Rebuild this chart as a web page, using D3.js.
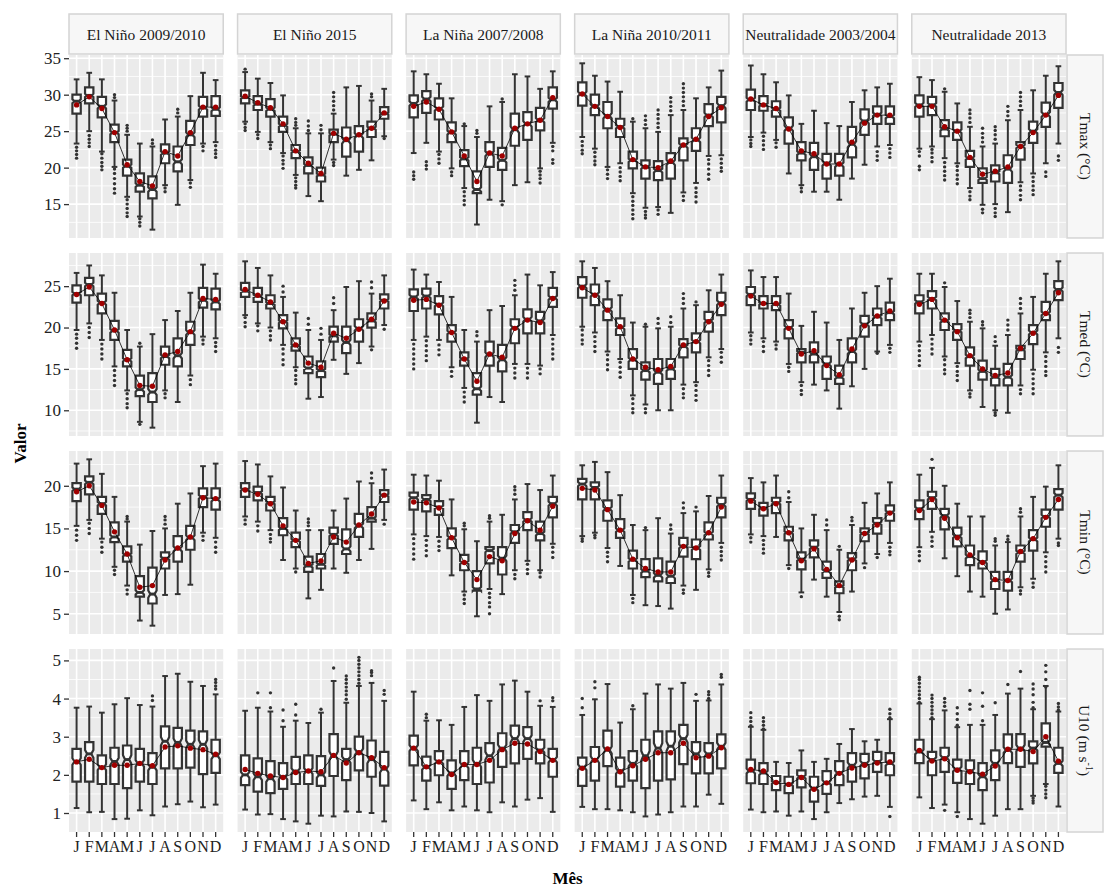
<!DOCTYPE html>
<html>
<head>
<meta charset="utf-8">
<script src="https://cdn.jsdelivr.net/npm/d3@7"></script>
<style>
  body { margin: 0; background: #fff; }
</style>
</head>
<body>
<svg id="chart" width="1105" height="886"></svg>
<script>
const events = ["El Niño 2009/2010", "El Niño 2015", "La Niña 2007/2008",
  "La Niña 2010/2011", "Neutralidade 2003/2004", "Neutralidade 2013"];
const monthLabels = ["J", "F", "M", "A", "M", "J", "J", "A", "S", "O", "N", "D"];
const varNames = ["Tmax (°C)", "Tmed (°C)", "Tmin (°C)", "U10 (m s-1)"];

const tmaxTicks = [15, 20, 25, 30, 35];
const tmedTicks = [10, 15, 20, 25];
const tminTicks = [5, 10, 15, 20];
const u10Ticks = [1, 2, 3, 4, 5];

// observations per month, used for the notch size
const nObs = 250;

// each box: [lower whisker, q1, median, q3, upper whisker, mean]
const tmax = [
  [[23.3,27.4,29.1,30.0,32.1,28.6],[25.0,28.8,29.9,31.0,33.0,29.7],[22.2,26.9,28.4,29.7,32.1,28.1],[20.1,23.5,24.8,25.9,29.2,24.8],[16.0,18.9,20.2,21.1,24.5,20.4],[13.3,16.7,17.6,19.2,23.3,18.1],[11.5,15.8,17.0,18.8,22.9,17.5],[17.6,20.6,22.0,23.2,26.6,22.2],[14.9,19.5,20.8,22.9,27.0,21.6],[18.3,23.1,24.5,26.4,29.8,24.8],[23.3,27.0,28.2,29.7,33.0,28.3],[23.5,27.1,28.0,29.8,32.0,28.3]],
  [[26.3,28.8,29.6,30.6,33.1,29.8],[24.9,27.9,28.7,29.8,32.2,28.9],[23.5,27.0,28.0,29.4,31.6,28.2],[22.0,24.9,25.8,27.0,29.9,26.0],[19.0,21.3,22.2,23.1,25.4,22.3],[16.1,19.2,20.3,21.4,24.7,20.6],[15.4,18.1,19.0,20.0,24.7,19.2],[21.1,23.5,24.6,25.2,27.4,24.7],[18.9,21.5,23.7,25.5,31.0,23.9],[19.7,22.2,24.4,25.7,31.2,24.5],[21.0,24.2,25.4,26.3,29.2,25.4],[24.3,26.7,27.4,28.3,30.8,27.5]],
  [[22.0,26.9,28.8,29.9,33.2,28.4],[23.4,27.5,29.4,30.5,32.8,29.0],[22.2,26.6,28.1,29.5,31.5,28.0],[19.9,23.5,24.8,26.2,29.5,24.9],[17.2,20.2,21.2,22.4,25.7,21.6],[12.2,16.5,17.0,19.5,24.2,18.1],[15.6,20.1,21.9,23.5,28.4,22.0],[15.4,19.7,21.0,22.7,29.0,21.6],[17.6,23.0,25.2,27.4,32.8,25.4],[18.0,23.8,26.0,27.6,32.5,26.0],[19.9,25.1,26.5,28.2,30.8,26.5],[23.4,28.1,29.3,31.0,33.2,29.6]],
  [[24.2,28.5,30.1,31.7,34.3,30.1],[22.6,27.2,28.4,30.0,32.6,28.4],[20.1,25.4,27.1,29.0,31.8,27.0],[20.6,24.2,25.6,26.7,30.4,25.5],[16.5,19.9,21.0,22.2,26.3,21.1],[14.5,18.5,20.1,21.0,25.4,20.1],[14.6,18.3,19.6,20.9,24.9,20.0],[13.8,18.5,20.7,22.0,27.2,20.9],[16.6,21.0,23.0,24.0,27.9,23.1],[17.9,22.3,23.8,25.4,29.5,23.9],[21.6,25.7,27.2,28.7,31.0,27.0],[21.7,26.2,28.5,29.7,33.3,28.2]],
  [[24.2,27.9,29.3,30.7,34.0,29.4],[24.8,27.8,28.6,29.8,32.8,28.6],[23.8,27.0,28.0,29.1,31.7,28.1],[19.2,23.3,25.4,26.9,29.9,25.3],[17.6,21.0,22.0,23.5,26.0,22.3],[16.7,19.7,21.5,23.4,27.8,21.9],[16.7,18.5,20.6,21.9,26.1,20.5],[15.6,18.9,20.4,21.9,25.7,20.5],[18.5,21.4,23.2,25.6,29.0,23.5],[20.4,24.5,26.4,28.0,30.6,26.1],[22.9,26.0,27.3,28.4,31.0,27.2],[23.1,26.0,27.0,28.4,31.5,27.2]],
  [[22.6,27.0,28.6,29.9,32.4,28.4],[22.9,27.2,28.6,29.7,32.0,28.4],[21.3,24.3,25.3,26.5,30.4,25.6],[20.6,23.8,25.0,26.2,28.8,25.0],[17.2,20.1,21.3,22.3,25.6,21.4],[14.9,17.9,18.5,19.9,22.9,19.1],[15.0,18.1,19.3,20.3,23.3,19.5],[13.9,17.9,19.8,21.7,26.5,20.1],[18.0,21.1,22.9,23.5,27.9,22.9],[19.2,23.4,25.0,26.3,30.6,24.8],[20.6,25.6,27.3,28.9,32.6,27.2],[23.3,28.2,30.3,31.6,33.9,29.9]]
];
const tmaxOut = [
  [[22.8,22.3,21.8,21.3],[24.4,23.9,23.4,22.9],[21.9,21.3,20.7,20.2,19.7],[29.6,30.0,19.8,19.2,18.5,17.8,17.1,16.5],[25.0,25.4,25.8,15.6,15.0,14.4,13.8,13.3],[13.0,12.5,12.0],[23.3,23.8],[17.2,16.7],[27.5,28.0],[17.9,17.3],[22.9,22.3],[23.0,22.4,21.9,21.4]],
  [[33.5,26.0,25.5,25.1],[24.5,24.0],[23.1,22.6],[21.6,21.0,20.5,19.9],[25.8,26.2,26.7,18.6,18.1,17.6,17.2],[25.1,25.7,26.4],[25.2,25.8],[27.9,28.5,29.1,29.7,30.3,20.7,20.3],[],[],[29.7,30.1],[24.0]],
  [[19.4,18.9,18.4],[20.8,20.3,19.8],[21.8,21.2,20.6],[19.4,18.9],[26.0,16.7,16.1,15.5,14.9],[24.7,25.1],[],[29.4,14.9],[],[],[19.5,19.0,18.5,17.9],[22.9,22.3,21.1,20.6]],
  [[23.6,23.0,22.4,21.9],[22.1,21.5,20.9,20.4],[19.7,19.1,18.5],[20.0,19.4,18.8,18.2],[26.7,16.0,15.4,14.8,14.2,13.6,13.0],[25.9,26.5,27.1,14.0,13.5,13.1],[25.5,26.1,26.7,27.3,27.9,14.2,13.6],[27.8,28.4,29.0,29.6],[28.5,29.1,29.7,30.3,30.9,31.5,16.1,15.5],[17.2,16.6,16.0,15.3],[21.1,20.5,19.8,19.1,18.4],[21.2,20.6,20.0,19.5]],
  [[23.8,23.3,22.9],[24.3,23.7,23.1,22.5],[23.4,22.8],[],[17.2,16.7],[],[],[],[],[],[22.2,21.6,21.0],[22.6,22.0,21.4]],
  [[22.2,21.6,20.2,19.7],[22.5,22.0,21.4,20.8],[30.8,20.7,20.1,19.5,18.9,18.3],[20.2,19.6,19.0,18.4,17.8],[26.2,26.8,27.4,27.9,16.7,16.1,15.6],[23.5,24.1,24.7,25.4,14.3,13.8],[23.9,24.5,25.1,25.6,14.4,13.8,13.3],[27.1,27.7,28.4],[28.5,29.1,29.7,30.3,17.5,16.9,16.2,15.6],[18.7,18.1,17.5,16.9,16.3],[19.4,18.8],[21.6,21.0]]
];

const tmed = [
  [[19.7,23.0,24.1,25.1,26.6,24.0],[20.5,23.9,25.2,26.0,27.5,24.9],[18.5,21.7,23.0,24.1,26.3,22.9],[15.3,18.5,19.6,20.8,24.2,19.7],[12.4,15.3,16.1,17.3,19.7,16.1],[8.6,11.7,12.5,14.2,17.7,13.0],[7.9,11.0,12.2,14.5,19.2,12.9],[12.4,15.5,16.5,17.7,20.9,16.7],[11.0,15.3,16.6,18.7,22.0,17.1],[14.2,17.9,19.4,20.7,24.2,19.5],[18.9,22.4,23.3,24.8,27.6,23.5],[18.7,22.2,23.1,24.7,26.5,23.4]],
  [[21.5,23.7,24.4,25.4,28.0,24.6],[20.5,23.1,23.8,24.8,27.2,23.9],[20.0,22.3,22.9,23.9,26.3,23.1],[17.9,19.9,20.7,21.5,23.7,20.7],[15.2,17.2,17.8,18.7,21.8,17.9],[11.4,14.5,15.1,16.5,19.7,15.7],[11.6,14.0,14.8,15.9,18.5,15.2],[16.1,18.3,19.0,20.1,22.1,19.3],[14.4,16.9,18.2,20.1,24.9,18.7],[15.7,18.3,19.9,21.0,25.6,19.8],[17.7,20.0,20.8,21.7,24.1,21.0],[20.3,22.3,23.3,24.0,26.3,23.2]],
  [[18.5,22.0,23.7,24.6,27.0,23.3],[18.9,22.3,23.8,24.7,26.4,23.4],[18.5,21.6,22.8,23.8,25.5,22.7],[15.2,18.3,19.4,20.3,23.7,19.4],[12.7,15.4,16.2,17.0,19.7,16.2],[8.5,11.9,12.6,14.5,18.3,13.5],[11.6,15.4,16.7,18.3,22.1,16.8],[11.0,14.7,16.1,17.9,22.6,16.4],[15.6,18.1,20.0,21.0,23.9,19.9],[15.6,19.3,21.0,22.2,26.4,20.9],[15.4,19.3,20.8,21.9,25.1,20.6],[19.1,22.5,23.6,24.8,26.7,23.5]],
  [[20.1,23.6,25.0,26.1,28.0,24.8],[19.4,22.7,24.0,25.2,27.2,23.9],[17.1,20.9,22.2,23.4,25.6,22.1],[16.2,19.1,20.0,21.1,23.9,20.1],[11.8,15.0,16.1,17.4,20.6,16.2],[10.7,13.7,14.8,15.8,20.1,15.2],[10.0,13.2,14.6,16.2,19.9,14.9],[10.0,13.8,15.0,16.2,20.1,15.3],[13.1,16.4,17.7,18.6,22.3,17.9],[13.4,17.0,18.3,19.3,22.7,18.3],[16.4,19.5,20.8,21.9,24.5,20.7],[17.4,21.5,23.0,24.2,26.4,22.8]],
  [[19.4,22.7,24.0,24.9,26.9,23.8],[18.7,22.3,22.9,23.8,26.1,22.9],[18.3,22.1,22.8,23.8,26.1,22.9],[15.6,18.7,20.0,20.9,24.1,19.9],[13.4,15.8,17.0,17.4,20.2,16.8],[13.1,15.8,16.8,18.2,21.9,17.2],[12.4,13.8,15.6,16.5,20.6,15.4],[10.2,13.2,14.0,15.4,18.5,14.3],[12.9,15.8,17.1,18.7,22.3,17.4],[15.0,18.9,20.4,21.4,24.2,20.2],[17.1,20.3,21.3,22.3,25.0,21.4],[17.9,20.9,21.8,23.0,25.9,22.0]],
  [[18.3,21.7,23.1,23.9,26.5,22.8],[19.1,22.3,23.5,24.4,26.5,23.4],[16.5,19.7,20.8,21.7,24.9,20.9],[15.7,18.5,19.6,20.4,23.2,19.5],[12.4,15.4,16.5,17.6,20.7,16.6],[10.4,13.7,14.7,16.0,19.9,15.0],[10.0,13.0,14.0,15.0,17.8,14.2],[9.7,13.0,14.0,15.6,19.1,14.5],[13.0,16.2,17.3,17.8,21.7,17.5],[14.9,18.0,19.4,20.3,23.7,19.3],[17.0,20.9,21.7,23.1,26.5,21.7],[18.7,23.3,24.6,25.6,28.0,24.2]]
];
const tmedOut = [
  [[19.2,18.7,18.1,17.5],[20.0,19.4,18.8],[18.0,17.4,16.8,16.2],[14.8,14.2,13.6,13.0],[12.0,11.4,10.8,10.3],[18.1,8.3],[],[12.0,11.5],[],[13.7,13.1],[18.5,18.0],[18.2,17.7,17.1]],
  [[21.2,20.6,20.1],[20.2,19.6],[19.6,19.0,18.5],[24.3,25.0,17.4,16.8,16.1,15.5],[14.8,14.2,13.7,13.2],[20.4,21.1],[19.2,19.9],[22.9,23.6],[],[],[24.8,25.5,17.3],[19.8]],
  [[18.0,17.4,16.8,16.2,15.6,15.0],[18.4,17.8,17.2,16.6,16.0],[17.9,17.3,16.7],[14.7,14.1],[12.2,11.6,11.0],[19.0,19.5],[],[],[24.5,25.1,25.7,15.1,14.5,13.9],[15.1,14.5,13.9],[15.0,14.4],[18.6,18.0,17.4,16.8,16.2]],
  [[19.7,19.1,18.5,18.0],[18.9,18.3,17.7,17.1],[16.7,16.1,15.5,14.9],[15.8,15.2,14.6,14.0],[11.4,10.8,10.2,9.7],[20.4,10.2,9.7],[20.5,21.1],[20.6,21.3],[22.9,23.5,24.1,12.6,12.0,11.5],[23.1,13.0,12.4,11.8,11.2],[16.0,15.4,14.8,14.2],[17.0,16.4,15.8]],
  [[19.0,18.5,18.0],[18.3,17.7,17.1],[17.9,17.4],[15.2,14.7],[13.0,12.4,11.9],[],[],[],[],[],[16.9],[17.5,17.0]],
  [[17.8,17.2,16.6,16.0,15.4],[18.6,18.0,17.4,16.8],[25.4,16.1,15.5,14.9,14.4],[15.3,14.7,14.2,13.6],[21.2,21.7,22.1,12.0,11.6],[20.3,20.7],[18.3,18.9,9.7,9.4],[19.7,20.3,20.9],[22.3,22.9,23.5,12.5,12.0],[14.4,13.8,13.2,12.6,12.0],[16.5,15.9,15.3,14.7,14.2],[17.6,17.0]]
];

const tmin = [
  [[15.3,18.2,19.6,20.3,22.6,19.3],[16.0,19.0,20.4,21.1,23.1,20.0],[13.8,16.7,17.9,18.7,21.4,17.7],[10.5,13.4,14.0,15.7,18.7,14.6],[8.3,11.1,11.9,12.9,15.8,12.0],[4.2,7.0,7.5,9.4,13.1,8.1],[3.6,6.2,7.3,10.4,14.7,8.3],[7.2,10.3,11.5,12.2,15.0,11.3],[7.3,11.1,12.6,14.1,17.9,12.7],[8.4,12.5,13.9,15.3,19.1,14.0],[14.5,17.5,18.7,19.7,22.3,18.6],[13.9,17.2,18.4,19.7,22.6,18.5]],
  [[16.4,18.7,19.6,20.3,22.9,19.5],[15.8,18.3,19.2,19.9,22.5,19.0],[14.8,17.1,18.0,18.7,21.1,17.9],[11.3,14.2,15.0,16.2,19.8,15.3],[10.3,12.8,13.6,14.5,17.1,13.6],[6.8,9.9,10.6,11.7,14.8,10.9],[7.8,10.3,10.8,12.0,14.8,11.2],[10.3,13.2,14.3,15.1,17.1,14.0],[9.8,12.0,12.6,14.9,18.5,13.4],[11.3,14.0,15.3,16.7,20.5,15.4],[12.6,15.8,16.2,17.5,20.3,16.7],[16.0,18.1,18.9,19.5,21.9,18.9]],
  [[14.3,17.2,18.6,19.2,21.3,18.1],[14.1,17.0,18.4,18.9,21.2,18.0],[14.0,16.6,17.5,18.2,20.6,17.4],[9.5,12.7,13.9,15.0,18.4,13.9],[7.6,10.1,11.0,11.9,14.9,11.0],[4.7,7.7,7.9,10.0,13.5,9.0],[7.9,10.9,12.4,12.8,15.8,11.7],[7.3,9.6,11.5,12.8,16.6,11.2],[10.1,13.3,14.6,15.4,18.4,14.4],[11.2,14.8,16.0,16.9,20.2,15.9],[10.1,13.6,14.4,15.8,19.5,14.8],[13.2,16.3,17.9,18.7,21.2,17.6]],
  [[14.1,18.4,20.2,20.8,22.4,19.7],[14.5,18.4,19.8,20.4,22.8,19.5],[12.7,15.9,17.3,18.3,21.6,17.2],[10.6,13.9,14.8,16.1,18.9,14.8],[7.2,10.3,11.3,12.4,15.4,11.4],[6.0,9.3,10.0,11.4,14.8,10.3],[5.9,8.8,9.5,11.5,16.2,9.9],[5.6,8.6,9.4,11.1,14.4,9.9],[8.3,11.7,12.9,13.9,16.8,12.9],[7.8,11.4,12.7,13.7,17.0,12.7],[10.2,13.7,14.4,15.7,18.8,14.5],[13.3,16.3,17.8,18.6,21.2,17.5]],
  [[14.3,17.3,18.4,19.1,20.9,18.2],[14.1,16.5,17.4,18.0,20.4,17.3],[14.0,16.8,18.0,18.6,21.2,17.9],[10.7,13.6,14.5,15.2,18.1,14.5],[7.5,10.2,11.4,12.2,15.0,11.2],[9.0,11.6,12.8,13.6,16.6,12.6],[7.0,9.2,10.0,11.1,14.8,10.2],[5.2,7.4,8.2,8.8,12.5,8.3],[7.6,10.1,11.4,12.1,15.4,11.3],[10.9,13.5,14.4,15.0,18.0,14.4],[12.0,14.4,15.6,16.2,19.1,15.4],[13.3,15.9,16.9,17.7,20.4,16.8]],
  [[12.8,16.1,17.3,18.3,21.3,17.1],[14.6,17.3,18.6,19.3,22.1,18.4],[11.5,14.9,16.5,17.3,20.0,16.2],[9.4,12.9,14.1,15.1,17.9,13.9],[7.6,10.7,11.7,13.0,16.4,11.9],[7.0,10.3,11.1,12.3,16.4,11.0],[5.0,7.9,8.9,9.9,13.0,9.0],[5.5,7.7,8.9,9.9,13.4,8.9],[8.1,11.1,12.2,13.0,16.4,12.3],[9.1,12.4,13.7,14.8,18.7,13.8],[12.2,15.2,16.4,17.2,19.9,16.3],[13.8,17.2,18.9,19.6,22.4,18.4]]
];
const tminOut = [
  [[14.8,14.2,13.6],[15.6,15.0,14.4],[13.4,12.8,12.2],[10.1,9.6],[16.1,16.4,7.8,7.3],[],[],[15.5,16.0,16.4],[],[],[14.1,13.6],[13.4,12.8,12.2]],
  [[16.0,15.5],[15.3,14.7],[14.3,13.8,13.4],[],[9.9],[15.3,15.7,16.1],[],[],[],[],[20.9,21.5],[15.5]],
  [[13.8,13.2,12.6,12.0,11.4],[13.6,13.0,12.4,11.8],[13.5,12.9,12.4],[],[15.3,15.6,7.2,6.7,6.2],[],[16.2,16.5,7.4,6.9,6.3,5.8,5.0],[],[19.0,19.5,19.9,9.6,9.1],[10.8,10.2,9.7],[9.8,9.3],[12.8,12.2,11.6]],
  [[13.8,13.5],[14.2,13.9],[12.2,11.7,11.1],[],[6.8,6.3],[15.1],[],[14.9,15.4],[17.4,18.0,7.8,7.4],[17.5],[9.8,9.4],[12.8,12.3,11.8,11.3]],
  [[13.9,13.4],[13.6,13.1,12.6,12.1],[],[18.6,19.3,10.3],[7.0],[],[15.4,16.0],[12.9,4.7,4.3],[15.9,16.3],[10.4],[11.6],[12.8,12.3,11.9]],
  [[12.3,11.8,11.2],[23.1,14.0,13.5,12.9],[],[],[],[],[13.5,13.8],[13.7,14.1],[16.9,17.3,7.7,7.3],[8.6,8.1],[11.7,11.1,10.5,9.9],[13.3,13.0]]
];

const u10 = [
  [[1.13,1.82,2.35,2.68,3.76,2.34],[1.02,1.82,2.55,2.86,3.79,2.41],[1.03,1.76,2.20,2.51,3.63,2.19],[0.84,1.76,2.35,2.71,3.85,2.25],[0.85,1.65,2.40,2.77,4.01,2.25],[1.07,1.82,2.30,2.68,3.83,2.30],[0.94,1.76,2.20,2.57,3.79,2.24],[1.17,2.17,2.88,3.27,4.59,2.73],[1.23,2.17,2.85,3.23,4.65,2.76],[1.30,2.19,2.80,3.16,4.44,2.70],[1.15,2.02,2.80,3.14,4.33,2.66],[1.22,2.05,2.50,2.92,4.11,2.54]],
  [[1.09,1.73,2.00,2.51,3.68,2.14],[0.96,1.56,1.95,2.43,3.76,2.04],[0.97,1.52,1.90,2.36,3.66,1.97],[0.84,1.63,1.95,2.31,3.26,1.93],[0.78,1.76,2.10,2.47,3.42,2.06],[0.72,1.76,2.10,2.51,3.36,2.10],[0.93,1.71,2.00,2.49,3.63,2.08],[0.91,1.97,2.50,3.07,4.46,2.51],[1.04,1.86,2.40,2.68,3.89,2.31],[1.03,2.12,2.60,3.00,4.33,2.58],[1.00,1.95,2.40,2.90,4.41,2.45],[0.78,1.72,2.15,2.60,3.94,2.19]],
  [[1.33,2.25,2.70,3.03,4.18,2.70],[1.10,1.85,2.20,2.48,3.42,2.21],[1.28,1.99,2.35,2.62,3.43,2.34],[1.07,1.63,2.05,2.38,3.31,2.01],[1.17,1.86,2.25,2.62,3.78,2.27],[1.07,1.76,2.30,2.71,4.09,2.27],[1.02,1.80,2.50,2.83,3.94,2.38],[1.28,2.21,2.70,3.09,4.37,2.66],[1.17,2.30,2.95,3.29,4.47,2.83],[1.35,2.42,2.95,3.25,4.18,2.81],[1.39,2.30,2.65,2.92,3.81,2.61],[1.03,1.95,2.40,2.68,3.78,2.38]],
  [[1.16,1.71,2.20,2.45,3.57,2.17],[1.10,1.85,2.40,2.73,3.98,2.38],[1.10,2.23,2.65,3.16,4.38,2.68],[1.07,1.69,2.10,2.45,3.37,2.08],[1.02,1.85,2.30,2.62,3.72,2.24],[0.91,1.65,2.50,2.92,4.13,2.41],[0.96,1.85,2.70,3.14,4.37,2.58],[1.02,1.88,2.75,3.14,4.26,2.58],[1.17,2.28,2.95,3.31,4.41,2.83],[1.17,2.04,2.55,2.86,3.94,2.45],[1.48,2.04,2.55,2.83,3.95,2.49],[1.24,2.17,2.75,3.06,4.37,2.71]],
  [[1.09,1.78,2.10,2.40,3.26,2.14],[1.02,1.76,2.05,2.31,3.18,2.10],[1.04,1.60,1.80,1.97,2.34,1.80],[0.93,1.52,1.75,1.95,2.31,1.75],[1.04,1.67,1.95,2.12,2.64,1.93],[0.84,1.30,1.65,1.95,2.34,1.62],[1.02,1.50,1.80,2.10,2.42,1.79],[1.26,1.73,2.05,2.36,2.81,2.04],[1.36,1.82,2.25,2.57,3.20,2.18],[1.43,1.91,2.30,2.55,2.88,2.25],[1.45,2.08,2.35,2.60,2.92,2.31],[1.16,1.99,2.30,2.57,3.46,2.34]],
  [[1.41,2.31,2.60,2.92,3.87,2.64],[1.13,1.99,2.40,2.60,3.46,2.36],[1.22,2.08,2.45,2.71,3.69,2.42],[1.02,1.79,2.15,2.40,3.25,2.12],[0.84,1.76,2.10,2.38,3.31,2.08],[0.72,1.60,1.95,2.31,3.31,2.02],[0.93,1.86,2.30,2.64,3.57,2.23],[1.10,2.31,2.65,3.06,4.13,2.67],[1.10,2.21,2.70,3.07,4.26,2.67],[1.45,2.30,2.70,2.88,3.72,2.61],[1.76,2.74,2.85,3.35,4.33,3.00],[1.17,2.05,2.30,2.71,3.66,2.36]]
];
const u10Out = [
  [[],[],[],[],[],[],[3.95,4.07],[],[],[],[],[4.25,4.33,4.42,4.5]],
  [[],[4.15],[3.76,4.15],[3.42,3.70],[3.57,3.85],[],[3.72],[4.80],[3.98,4.1,4.2,4.3,4.4,4.5,4.59],[4.4,4.5,4.6,4.7,4.8,4.9,5.0,5.08],[4.6,4.68,4.73],[4.11,4.21]],
  [[],[3.5,3.59],[],[],[],[],[],[],[],[],[3.94],[3.94,4.02]],
  [[3.76,4.0],[4.28,4.44],[],[],[3.81],[],[],[],[],[4.11],[4.0,4.1,4.18],[4.56,4.63]],
  [[3.29,3.4,3.5,3.63],[3.2,3.3,3.4,3.5],[],[],[],[],[],[],[],[],[],[3.5,3.6,3.72,0.91]],
  [[3.9,4.0,4.1,4.2,4.3,4.4,4.5,4.56],[3.5,3.6,3.7,3.8,3.9,4.0,4.09],[3.8,3.9,4.0,1.07],[3.3,3.45,3.6,3.76,0.91],[3.72,3.85,4.21],[3.42,3.8,4.15],[3.89],[4.37],[4.71],[3.76,3.9,4.1,4.25,4.38,1.39,1.32,1.26],[4.3,4.5,4.7,4.87,1.7,1.6,1.5,1.4],[3.7,3.78,3.87]]
];

const rows = [
  { stats: tmax, outs: tmaxOut, ticks: tmaxTicks },
  { stats: tmed, outs: tmedOut, ticks: tmedTicks },
  { stats: tmin, outs: tminOut, ticks: tminTicks },
  { stats: u10, outs: u10Out, ticks: u10Ticks }
];

const FONT = "'Liberation Serif', 'Times New Roman', serif";
const INK = "#333333";
const svg = d3.select("#chart");

const colX = d3.scaleBand().domain(events).range([69, 1066]).paddingInner(0.085);
const rowY = d3.scaleBand().domain(d3.range(4)).range([55, 832]).paddingInner(0.076);
const monthX = d3.scaleBand().domain(d3.range(12)).range([0, colX.bandwidth()])
  .paddingInner(0).paddingOuter(0.1);
const step = monthX.step();
const boxW = step * 0.66;
const capW = step * 0.45;
const cx = i => monthX(i) + monthX.bandwidth() / 2;

rows.forEach((row, r) => {
  const top = rowY(r), bottom = rowY(r) + rowY.bandwidth();
  const all = row.stats.flat(2).concat(row.outs.flat(2));
  const [lo, hi] = d3.extent(all);
  const pad = (hi - lo) * 0.05;
  const y = d3.scaleLinear().domain([lo - pad, hi + pad]).range([bottom, top]);
  const t = row.ticks, half = (t[1] - t[0]) / 2;
  const minor = [t[0] - half].concat(t.map(v => v + half))
    .filter(v => v > y.domain()[0] && v < y.domain()[1]);

  events.forEach((ev, c) => {
    const g = svg.append("g").attr("transform", `translate(${colX(ev)},0)`);
    const w = colX.bandwidth();
    g.append("rect").attr("x", 0).attr("y", top).attr("width", w)
      .attr("height", bottom - top).attr("fill", "#EBEBEB");

    g.selectAll(".minor").data(minor).join("line")
      .attr("x1", 0).attr("x2", w).attr("y1", d => y(d)).attr("y2", d => y(d))
      .attr("stroke", "#fff").attr("stroke-width", 0.8);
    g.selectAll(".major").data(t).join("line")
      .attr("x1", 0).attr("x2", w).attr("y1", d => y(d)).attr("y2", d => y(d))
      .attr("stroke", "#fff").attr("stroke-width", 1.6);
    g.selectAll(".vgrid").data(d3.range(12)).join("line")
      .attr("x1", cx).attr("x2", cx).attr("y1", top).attr("y2", bottom)
      .attr("stroke", "#fff").attr("stroke-width", 1.6);

    const boxes = row.stats[c];

    // whiskers with caps
    boxes.forEach((b, i) => {
      const x = cx(i);
      g.append("line").attr("x1", x).attr("x2", x).attr("y1", y(b[0])).attr("y2", y(b[4]))
        .attr("stroke", INK).attr("stroke-width", 2);
      [b[0], b[4]].forEach(v => g.append("line")
        .attr("x1", x - capW / 2).attr("x2", x + capW / 2).attr("y1", y(v)).attr("y2", y(v))
        .attr("stroke", INK).attr("stroke-width", 2));
    });

    // notched boxes
    boxes.forEach((b, i) => {
      const x0 = cx(i) - boxW / 2, x1 = cx(i) + boxW / 2, inset = boxW * 0.25;
      const nh = 1.58 * (b[3] - b[1]) / Math.sqrt(nObs);
      const pts = [
        [x0, y(b[3])], [x0, y(b[2] + nh)], [x0 + inset, y(b[2])], [x0, y(b[2] - nh)],
        [x0, y(b[1])], [x1, y(b[1])], [x1, y(b[2] - nh)], [x1 - inset, y(b[2])],
        [x1, y(b[2] + nh)], [x1, y(b[3])]
      ];
      g.append("path").attr("d", d3.line()(pts) + "Z")
        .attr("fill", "#fff").attr("stroke", INK).attr("stroke-width", 2.2)
        .attr("stroke-linejoin", "miter");
      g.append("line").attr("x1", x0 + inset).attr("x2", x1 - inset)
        .attr("y1", y(b[2])).attr("y2", y(b[2]))
        .attr("stroke", INK).attr("stroke-width", 3);
      g.selectAll(null).data(row.outs[c][i]).join("circle")
        .attr("cx", cx(i)).attr("cy", d => y(d)).attr("r", 1.7).attr("fill", INK);
    });

    // mean line and points
    g.append("path")
      .attr("d", d3.line().x((d, i) => cx(i)).y(d => y(d[5]))(boxes))
      .attr("fill", "none").attr("stroke", "#000").attr("stroke-width", 0.8);
    g.selectAll(".mean").data(boxes).join("circle")
      .attr("cx", (d, i) => cx(i)).attr("cy", d => y(d[5])).attr("r", 2.7)
      .attr("fill", "#A00000");

    if (c === 0) {
      const ax = g.append("g")
        .call(d3.axisLeft(y).tickValues(t).tickFormat(d3.format("d")).tickSize(5).tickPadding(3));
      ax.select(".domain").remove();
      ax.selectAll("line").attr("stroke", INK).attr("stroke-width", 1.3);
      ax.selectAll("text").attr("fill", "#222").attr("font-family", FONT).attr("font-size", 17);
    }
    if (r === 3) {
      const ax = g.append("g").attr("transform", `translate(0,${bottom})`)
        .call(d3.axisBottom(monthX).tickFormat(i => monthLabels[i]).tickSize(5).tickPadding(4));
      ax.select(".domain").remove();
      ax.selectAll("line").attr("stroke", INK).attr("stroke-width", 1.3);
      ax.selectAll("text").attr("fill", "#222").attr("font-family", FONT).attr("font-size", 16);
    }
  });

  // right strip
  const sx = 1067, sw = 36;
  svg.append("rect").attr("x", sx).attr("y", top).attr("width", sw)
    .attr("height", bottom - top).attr("fill", "#F7F7F7")
    .attr("stroke", "#D4D4D4").attr("stroke-width", 1.5);
  const lab = svg.append("text")
    .attr("transform", `translate(${sx + sw / 2},${(top + bottom) / 2}) rotate(90)`)
    .attr("text-anchor", "middle").attr("dominant-baseline", "central")
    .attr("font-family", FONT).attr("font-size", 15.5).attr("fill", "#1A1A1A");
  const name = varNames[r];
  if (name.endsWith("-1)")) {
    lab.append("tspan").text(name.slice(0, -3));
    lab.append("tspan").attr("dy", -5).attr("font-size", 10).text("-1");
    lab.append("tspan").attr("dy", 5).text(")");
  } else {
    lab.text(name);
  }
});

// top strips
events.forEach(ev => {
  svg.append("rect").attr("x", colX(ev)).attr("y", 14).attr("width", colX.bandwidth())
    .attr("height", 40).attr("fill", "#F7F7F7")
    .attr("stroke", "#D4D4D4").attr("stroke-width", 1.5);
  svg.append("text").attr("x", colX(ev) + colX.bandwidth() / 2).attr("y", 34)
    .attr("text-anchor", "middle").attr("dominant-baseline", "central")
    .attr("font-family", FONT).attr("font-size", 15.5).attr("fill", "#1A1A1A").text(ev);
});

// axis titles
svg.append("text")
  .attr("transform", `translate(20,${(55 + 832) / 2}) rotate(-90)`)
  .attr("text-anchor", "middle").attr("dominant-baseline", "central")
  .attr("font-family", FONT).attr("font-size", 17).attr("font-weight", "bold")
  .attr("fill", "#000").text("Valor");
svg.append("text")
  .attr("x", (69 + 1066) / 2).attr("y", 878)
  .attr("text-anchor", "middle").attr("dominant-baseline", "central")
  .attr("font-family", FONT).attr("font-size", 17).attr("font-weight", "bold")
  .attr("fill", "#000").text("Mês");
</script>
</body>
</html>
